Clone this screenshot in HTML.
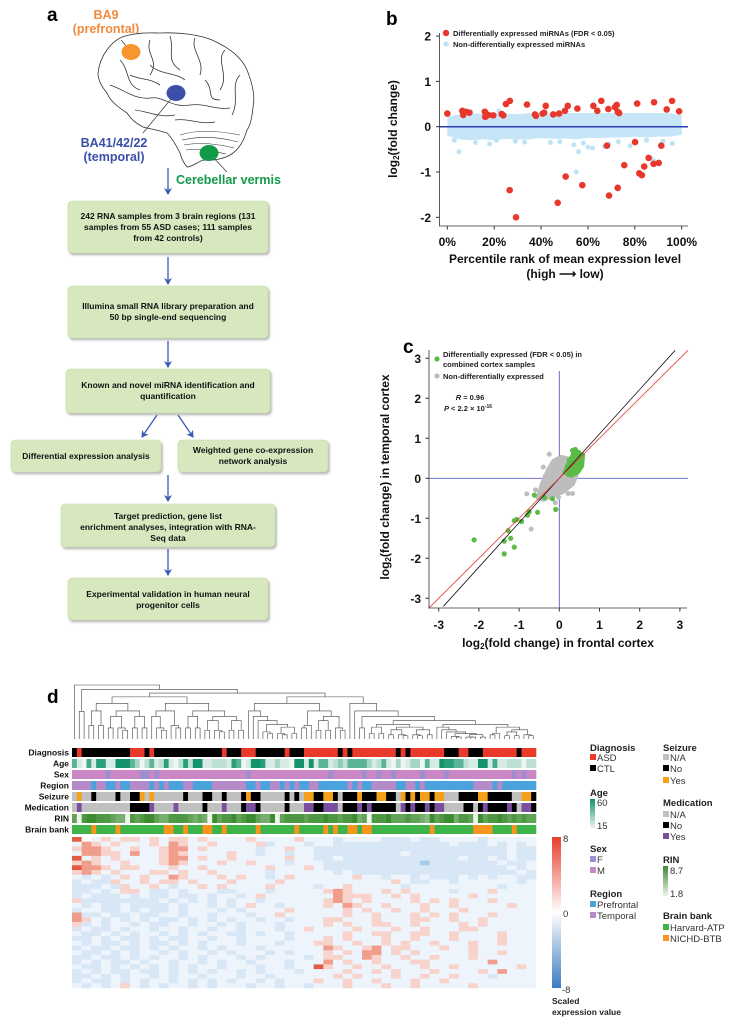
<!DOCTYPE html>
<html><head><meta charset="utf-8"><style>
html,body{margin:0;padding:0;background:#fff;}
svg{display:block;font-family:"Liberation Sans",Arial,sans-serif;}
.bx{fill:#d7e8bf;stroke:#c4d9a8;stroke-width:0.6;}
.bt{font-size:8.5px;font-weight:bold;text-anchor:middle;fill:#111;}
.tk{font-size:12px;font-weight:bold;fill:#111;}
.lg{font-size:7.5px;font-weight:bold;fill:#222;}
.al{font-size:8.5px;font-weight:bold;text-anchor:end;fill:#111;}
.lt{font-size:9.5px;font-weight:bold;fill:#222;}
.li{font-size:9.5px;fill:#333;}
</style></head><body>
<svg id="fig" width="743" height="1025" viewBox="0 0 743 1025" xmlns="http://www.w3.org/2000/svg">
<defs>
<filter id="sh" x="-5%" y="-5%" width="115%" height="130%"><feDropShadow dx="1.5" dy="2" stdDeviation="1" flood-color="#888" flood-opacity="0.6"/></filter>
<marker id="ar" markerWidth="8" markerHeight="8" refX="6" refY="4" orient="auto" markerUnits="userSpaceOnUse"><path d="M0,0 L7,4 L0,8 L2,4 Z" fill="#3a5bb5"/></marker>
<linearGradient id="gAge" x1="0" y1="0" x2="0" y2="1"><stop offset="0" stop-color="#12936b"/><stop offset="1" stop-color="#eef6f2"/></linearGradient>
<linearGradient id="gRin" x1="0" y1="0" x2="0" y2="1"><stop offset="0" stop-color="#3a8c2e"/><stop offset="1" stop-color="#eef4ea"/></linearGradient>
<linearGradient id="gCb" x1="0" y1="0" x2="0" y2="1"><stop offset="0" stop-color="#e6402a"/><stop offset="0.5" stop-color="#ffffff"/><stop offset="1" stop-color="#3a7cc2"/></linearGradient>
</defs>

<!-- Panel a -->
<g>
<text x="47" y="21" style="font-size:19px;font-weight:bold">a</text>
<text x="106" y="19" text-anchor="middle" style="font-size:12.5px;font-weight:bold;fill:#f08a3c">BA9</text>
<text x="106" y="33" text-anchor="middle" style="font-size:12.5px;font-weight:bold;fill:#f08a3c">(prefrontal)</text>
<g fill="none" stroke="#333" stroke-width="0.8">
<path d="M98,73 C100,55 112,40 125,36 C140,32 150,33 160,33 C180,32 200,35 212,40 C230,48 242,58 247,70 C253,85 255,98 253,107 C252,118 250,126 247,130 C244,140 240,148 233,153 C225,159 213,161 203,160 C196,163 192,167 187,167 C183,162 181,157 180,153 C176,145 172,138 167,133 C158,130 150,129 143,127 C135,123 130,118 127,113 C118,107 110,101 107,93 C101,86 98,80 98,73 Z" fill="#fff"/>
<path d="M120,60 C130,70 125,85 140,90 M150,40 C145,55 160,60 150,75 M170,36 C175,50 165,60 180,70 M195,38 C190,50 205,60 200,75 M225,50 C215,60 230,75 220,90 M240,75 C230,85 240,100 232,115 M110,85 C125,90 135,100 150,98 C165,96 170,108 190,105 C205,103 215,110 230,108 M135,110 C150,112 160,118 175,115 M175,120 C190,118 200,125 215,122 M205,80 C215,90 205,100 220,100 M150,65 C160,75 175,72 185,80 M130,75 C140,80 150,78 160,85"/>
<path d="M180,135 C195,130 215,130 240,135 M182,140 C200,136 220,137 238,142 M184,145 C200,142 218,144 234,148 M186,150 C200,148 212,151 226,154" stroke-width="0.6"/>
</g>
<line x1="121" y1="40" x2="128" y2="48" stroke="#333" stroke-width="0.7"/>
<line x1="176" y1="93" x2="143" y2="133" stroke="#333" stroke-width="0.7"/>
<line x1="209" y1="153" x2="227" y2="172" stroke="#333" stroke-width="0.7"/>
<ellipse cx="131" cy="52" rx="9.5" ry="8" fill="#f7962f"/>
<ellipse cx="176" cy="93" rx="9.5" ry="8" fill="#3b4fa8"/>
<ellipse cx="209" cy="153" rx="9.5" ry="8" fill="#139a48"/>
<text x="114" y="147" text-anchor="middle" style="font-size:12.5px;font-weight:bold;fill:#3b4fa8">BA41/42/22</text>
<text x="114" y="161" text-anchor="middle" style="font-size:12.5px;font-weight:bold;fill:#3b4fa8">(temporal)</text>
<text x="176" y="184" style="font-size:12.5px;font-weight:bold;fill:#139a48">Cerebellar vermis</text>

<g stroke="#3a5bb5" stroke-width="1.3" marker-end="url(#ar)">
<line x1="168" y1="168" x2="168" y2="194"/>
<line x1="168" y1="257" x2="168" y2="284"/>
<line x1="168" y1="341" x2="168" y2="367"/>
<line x1="157" y1="415" x2="142" y2="437"/>
<line x1="178" y1="415" x2="193" y2="437"/>
<line x1="168" y1="475" x2="168" y2="501"/>
<line x1="168" y1="549" x2="168" y2="575"/>
</g>
<g><rect class="bx" x="68" y="201" width="200" height="52" rx="4" filter="url(#sh)"/>
<text class="bt" x="168" y="219">242 RNA samples from 3 brain regions (131</text><text class="bt" x="168" y="230">samples from 55 ASD cases; 111 samples</text><text class="bt" x="168" y="241">from 42 controls)</text></g>
<g><rect class="bx" x="68" y="286" width="200" height="52" rx="4" filter="url(#sh)"/>
<text class="bt" x="168" y="309">Illumina small RNA library preparation and</text><text class="bt" x="168" y="320">50 bp single-end sequencing</text></g>
<g><rect class="bx" x="66" y="369" width="204" height="44" rx="4" filter="url(#sh)"/>
<text class="bt" x="168" y="388">Known and novel miRNA identification and</text><text class="bt" x="168" y="399">quantification</text></g>
<g><rect class="bx" x="11" y="440" width="150" height="32" rx="4" filter="url(#sh)"/>
<text class="bt" x="86" y="459">Differential expression analysis</text></g>
<g><rect class="bx" x="178" y="440" width="150" height="32" rx="4" filter="url(#sh)"/>
<text class="bt" x="253" y="453">Weighted gene co-expression</text><text class="bt" x="253" y="464">network analysis</text></g>
<g><rect class="bx" x="61" y="504" width="214" height="43" rx="4" filter="url(#sh)"/>
<text class="bt" x="168" y="519">Target prediction, gene list</text><text class="bt" x="168" y="530">enrichment analyses, integration with RNA-</text><text class="bt" x="168" y="541">Seq data</text></g>
<g><rect class="bx" x="68" y="578" width="200" height="42" rx="4" filter="url(#sh)"/>
<text class="bt" x="168" y="597">Experimental validation in human neural</text><text class="bt" x="168" y="608">progenitor cells</text></g>
</g>

<!-- Panel b -->
<g id="pb">
<text x="386" y="25" style="font-size:19px;font-weight:bold">b</text>
<g id="pbMarks"></g>
<g id="pbAxes"></g>
<text transform="translate(397,129) rotate(-90)" text-anchor="middle" class="tk">log<tspan style="font-size:8px" dy="2">2</tspan><tspan dy="-2">(fold change)</tspan></text>
<text x="565" y="263" text-anchor="middle" class="tk">Percentile rank of mean expression level</text>
<text x="565" y="278" text-anchor="middle" class="tk">(high ⟶ low)</text>
<g>
<circle cx="446" cy="33" r="3.2" fill="#e8382e"/><text class="lg" x="453" y="36">Differentially expressed miRNAs (FDR &lt; 0.05)</text>
<circle cx="446" cy="44" r="2.6" fill="#bfe3f5"/><text class="lg" x="453" y="47">Non-differentially expressed miRNAs</text>
</g>
</g>

<!-- Panel c -->
<g id="pc">
<text x="403" y="353" style="font-size:19px;font-weight:bold">c</text>
<g id="pcMarks"></g>
<g id="pcAxes"></g>
<text transform="translate(389,477) rotate(-90)" text-anchor="middle" class="tk">log<tspan style="font-size:8px" dy="2">2</tspan><tspan dy="-2">(fold change) in temporal cortex</tspan></text>
<text x="558" y="647" text-anchor="middle" class="tk">log<tspan style="font-size:8px" dy="2">2</tspan><tspan dy="-2">(fold change) in frontal cortex</tspan></text>
<g>
<circle cx="437" cy="359" r="2.6" fill="#5bbb46"/><text class="lg" x="443" y="357">Differentially expressed (FDR &lt; 0.05) in</text><text class="lg" x="443" y="367">combined cortex samples</text>
<circle cx="437" cy="376" r="2.6" fill="#b9b9b9"/><text class="lg" x="443" y="379">Non-differentially expressed</text>
<text class="lg" x="470" y="400" text-anchor="middle"><tspan font-style="italic">R</tspan> = 0.96</text>
<text class="lg" x="468" y="411" text-anchor="middle"><tspan font-style="italic">P</tspan> &lt; 2.2 × 10<tspan dy="-3" style="font-size:5px">-16</tspan></text>
</g>
</g>

<!-- Panel d -->
<g id="pd">
<text x="47" y="703" style="font-size:19px;font-weight:bold">d</text>
<g id="dendro" stroke="#444" stroke-width="0.6" fill="none"></g>
<g id="annot"></g>
<g id="heat"></g>
<g>
<rect x="552" y="837" width="9" height="151" fill="url(#gCb)"/>
<text class="li" x="563" y="842">8</text><text class="li" x="563" y="917">0</text><text class="li" x="562" y="993">-8</text>
<text class="lt" x="552" y="1004" style="font-size:8.5px">Scaled</text><text class="lt" x="552" y="1015" style="font-size:8.5px">expression value</text>
</g>
<g>
<text class="lt" x="590" y="751">Diagnosis</text>
<rect x="590" y="754" width="6" height="6" fill="#e8392b"/><text class="li" x="597" y="761">ASD</text>
<rect x="590" y="765" width="6" height="6" fill="#000"/><text class="li" x="597" y="772">CTL</text>
<text class="lt" x="590" y="796">Age</text>
<rect x="590" y="799" width="5" height="29" fill="url(#gAge)"/><text class="li" x="597" y="806">60</text><text class="li" x="597" y="829">15</text>
<text class="lt" x="590" y="852">Sex</text>
<rect x="590" y="856" width="6" height="6" fill="#a08fd0"/><text class="li" x="597" y="863">F</text>
<rect x="590" y="867" width="6" height="6" fill="#c987c4"/><text class="li" x="597" y="874">M</text>
<text class="lt" x="590" y="897">Region</text>
<rect x="590" y="901" width="6" height="6" fill="#4aa3dd"/><text class="li" x="597" y="908">Prefrontal</text>
<rect x="590" y="912" width="6" height="6" fill="#b58ac9"/><text class="li" x="597" y="919">Temporal</text>
<text class="lt" x="663" y="751">Seizure</text>
<rect x="663" y="754" width="6" height="6" fill="#c0c0c0"/><text class="li" x="670" y="761">N/A</text>
<rect x="663" y="765" width="6" height="6" fill="#000"/><text class="li" x="670" y="772">No</text>
<rect x="663" y="777" width="6" height="6" fill="#f5a01a"/><text class="li" x="670" y="784">Yes</text>
<text class="lt" x="663" y="806">Medication</text>
<rect x="663" y="811" width="6" height="6" fill="#c0c0c0"/><text class="li" x="670" y="818">N/A</text>
<rect x="663" y="822" width="6" height="6" fill="#000"/><text class="li" x="670" y="829">No</text>
<rect x="663" y="833" width="6" height="6" fill="#7b4fa0"/><text class="li" x="670" y="840">Yes</text>
<text class="lt" x="663" y="863">RIN</text>
<rect x="663" y="866" width="5" height="30" fill="url(#gRin)"/><text class="li" x="670" y="874">8.7</text><text class="li" x="670" y="897">1.8</text>
<text class="lt" x="663" y="919">Brain bank</text>
<rect x="663" y="924" width="6" height="6" fill="#3eb34a"/><text class="li" x="670" y="931">Harvard-ATP</text>
<rect x="663" y="935" width="6" height="6" fill="#f7941d"/><text class="li" x="670" y="942">NICHD-BTB</text>
</g>
</g>
</svg>
<script>
// ---------- Panel b data ----------
const bRedPct = [0,6.4,6.8,8,9.4,16,16.2,17.5,19.6,23.2,23.9,25,26.7,26.6,29.3,34,37.4,37.8,40.7,41.3,42,45.2,47.1,47.7,50.2,50.5,51.4,55.5,57.6,62.3,64,65.7,68.1,68.7,69,71.5,72.3,72.7,72.7,73.3,75.5,80.1,81,81.9,83,84,85.9,88,88.2,90.2,91.3,93.6,95.9,98.9];
const bRedFC = [0.29,0.35,0.26,0.33,0.31,0.33,0.22,0.26,0.25,0.28,0.25,0.5,0.57,-1.4,-2.0,0.49,0.27,0.24,0.29,0.31,0.46,0.27,-1.68,0.29,0.35,-1.1,0.46,0.4,-1.29,0.46,0.35,0.57,-0.42,0.39,-1.52,0.43,0.48,-1.35,0.33,0.3,-0.85,-0.34,0.51,-1.03,-1.07,-0.88,-0.69,-0.82,0.54,-0.8,-0.42,0.38,0.57,0.34];
const bBandPct = [0,5,10,15,20,25,30,35,40,45,50,55,60,65,70,75,80,85,90,95,100];
const bBandHi = [0.22,0.27,0.3,0.28,0.3,0.29,0.28,0.3,0.3,0.29,0.3,0.3,0.3,0.3,0.3,0.3,0.3,0.3,0.3,0.3,0.25];
const bBandLo = [-0.2,-0.28,-0.3,-0.28,-0.3,-0.27,-0.28,-0.28,-0.25,-0.27,-0.26,-0.28,-0.25,-0.25,-0.24,-0.24,-0.22,-0.24,-0.22,-0.22,-0.18];
const bBluePct = [5,12,21,18,29,33,44,54,55,56,60,62,67,69,73,78,85,87,88,96,10,22,3,48,58,80,92];
const bBlueFC = [-0.55,-0.35,-0.3,-0.38,-0.32,-0.34,-0.35,-0.4,-1.0,-0.55,-0.45,-0.47,-0.44,-0.38,-0.33,-0.42,-0.3,-0.7,-0.75,-0.37,0.33,0.35,-0.3,-0.33,-0.36,-0.34,-0.32];
const bXTicks = [0,20,40,60,80,100];
const bXTickLabels = ['0%','20%','40%','60%','80%','100%'];
const bYTicks = [2,1,0,-1,-2];

// ---------- Panel c data ----------
const cGreenX = [-2.12,-1.37,-1.37,-1.27,-1.21,-1.12,-1.12,-1.06,-0.94,-0.79,-0.75,-0.54,-0.37,-0.17,-0.09,-0.62,0.15,0.2,0.25,0.3,0.35,0.4,0.45,0.5,0.55,0.58,0.38,0.42,0.3,0.22,0.48,0.52,0.33,0.27];
const cGreenY = [-1.54,-1.89,-1.57,-1.31,-1.5,-1.72,-1.06,-1.03,-1.08,-0.92,-0.84,-0.85,-0.48,-0.51,-0.78,-0.42,0.15,0.3,0.45,0.5,0.6,0.72,0.55,0.35,0.45,0.58,0.25,0.4,0.2,0.1,0.65,0.3,0.7,0.35];
const cGreyX = [-0.25,-0.4,-0.81,-0.7,-0.1,0.33,0.22,-0.59,-0.45,-0.3,-0.2,-0.1,0,0.1,0.2,0.05,-0.15,-0.35,0.15,-0.05,0.1,-0.25,0.3,-0.5,-0.02];
const cGreyY = [0.6,0.28,-0.39,-1.27,-0.61,-0.38,-0.38,-0.29,-0.3,-0.1,0.2,0.4,0.5,0.35,0.1,-0.3,-0.4,0.05,-0.2,0.15,0.48,-0.2,0.05,-0.45,-0.48];
const cBlobX = [-0.55,-0.4,-0.15,0.1,0.35,0.45,0.4,0.25,0.05,-0.15,-0.3,-0.45];
const cBlobY = [-0.5,-0.55,-0.45,-0.35,-0.15,0.1,0.35,0.5,0.55,0.45,0.2,-0.15];
const cGClusterX = [0.12,0.25,0.38,0.5,0.6,0.58,0.48,0.3];
const cGClusterY = [0.15,0.45,0.68,0.65,0.55,0.3,0.15,0.05];
const cTicks = [-3,-2,-1,0,1,2,3];
const cFitSlope = [1.11, 1.0];

// ---------- Panel d data ----------
const diagnosisRuns = [['K',1],['R',1],['K',10],['R',3],['K',1],['R',1],['K',14],['R',1],['K',3],['R',3],['K',6],['R',1],['K',3],['R',7],['K',1],['R',1],['K',1],['R',9],['K',1],['R',1],['K',1],['R',7],['K',3],['R',2],['K',3],['R',7],['K',1],['R',3]];
const ageLevels = "61071881199963026128102829911222186019981131109919166124266663126103013306119886621199171122202";
const sexCodes = "MMMMMMMFMMMMMMFFMFMMMMMMMMMMMMMMMMMMFMMMMMMMMMMMMMMMMFMMMMMMFMMFMMFMMMMMFMMMMFMMMMMMMMMMMMMFMFM";
const regionCodes = "TTTTPTTPPTPPTTTTPTPTPPPTTPPPPTTTTTTTPPTPPTTPTPTPPTTPPPPPPTPTPPTTTTTPPTTPTPPPPPPPPPPTTTTPTPPPPPPP";
const seizureCodes = "NYNNKNNNNKNNKKYNYNNNNNNKNNNKKNNKNNNKYKKNNNNNKNKNYYKKYYKNKKKYKKKYYKKNYKYKYYKYYNNNKKKKYYKKKKKNNYYK";
const medicationCodes = "NPNNNNNNNNNNKKKKPNNNNPNNNNNKNNNPNNNKPPKNNNNNKNNNPPKKPPPNKKKPKPKKKKKNPKPKKPKPPNNNNKKNKPKKKKPKNPPK";
const rinLevels = "70899888766087899766888876760978897899766907888878889887889670888977787765978996887097889878787";
const bankCodes = "HHHHOHHHHOHHHHHHHHHOOHHOHHHOOHHOHHHHHHOHHHHHHHOHHHHHOHOHHOOHOOHHHHHHHHHHHHOHHHHHHHHOOOOHHHHOHHHH";
const heatRows = [
"Xw.r.rr.r.rr.r....r....r...b....bbb.bb....b.....",
".Rr.r...r.Rr..r....rb...b..bbbbbbbbbbbb.bbb.b.b.",
"rRRr..r..rRR.r.....b..r..bbbbbbbbbbbbbbbbbbbb.bb",
".RRrr.R..rRr....r..b..b..bbbbbbbbb.bbbbbbbbbb.bb",
"X.r.r....rRR.r..r.....r..bb.bbbbbbbbbbbb.bb.b.bb",
"rRr..r...rRr...r..r...b...bbbbbbbbbbBbbbbbbb.bb.",
"XRRr.rr...r..r......r...r.bbbbbbbbbbbbbbbbbbb.b.",
"rRr.r...rr.r..r.....b......b.bbbbbbbbbbbbbbbbb.b",
".b.b.r.r..Rr...r.r..b.r......r..b..b.bbb.b.b..bb",
"b.bbr..r.rr.r...r....r...........r.bb..b......b.",
"bbb.br..r.b..r.r....r....b..r.....b.........b...",
"bb.b.rr.bb.b...bb...b.....rRr...r.r....b...r....",
"b.bbb.b.bb.bb.b..b.r.......Rrrr..r.r.....r......",
"rbbbbbbbb.b.b.b.b..b......rRr.r....r.r.r...r....",
".b.bb.bbbb.b..b.b.r..b....r.Rr..r...r..r.....r..",
"b..bb.b.bb.b...b.b....r.....r.r..r..r...r.......",
"Rbb.bb.bb..b..b...b..r......r..r...r.r.r...r....",
"Rr.b.b.b.bb.b.b.b..b..b...rr...r...rr..r..r.....",
"rb.b..b.bb..b..b.b...b....r.r..rr..r....r.r.....",
"b.bb.b..b..b..b..b...b..r....r...r..r...rr......",
".bb.b.b..b.b.b..bb.b..b.....r..rr..rr..r....r...",
"bb.b.bb.b.bb..b..b....b...r.r...r..r...r....r...",
".b.bb.b.bb.b.b...b...b...rr..r..r.r..r...r..r...",
"b.bb.bb.b.b..b.b...b......Rr..rR.rr...r..r......",
".bb.b.b..b.b..b.b...b.b...r.r.RR.r.r.....r..r...",
"bb.bb.b.b..b.b...b.b....b.rr..Rr..r..r...r......",
"b.b.bb.b..b..b.b..b...b...R.r..r...rr......R....",
".bb.b.b.b.b.b..b...b..b..Xr..r..r...r..r......r.",
"b.b.bb.bb.b.b.b..b.b...b....r..r.r...r....r.R...",
"bb.b.b..b.b..b...b..b......r.r...r..r..r...b....",
"b.bb.b.b..b.b.b.b..b.b...r..r..r...r..r.........",
".b.b.r.b.b..b.b...b..b..b...r...r..r.....r......"];
const dendroSplits = [0.01,0.02,0.05,0.35,0.4,0.3,0.5,0.35,0.45,0.5,0.3,0.55,0.4,0.5,0.6,0.45,0.5,0.35,0.5];
const dendroHeights = [1.0,0.92,0.85,0.78,0.66,0.52,0.42,0.34,0.27,0.22,0.17,0.13,0.1,0.08,0.06];

const NS = 'http://www.w3.org/2000/svg';
function mk(tag, parent){const e=document.createElementNS(NS,tag);parent.appendChild(e);return e;}

// ----- Panel b render -----
const xb = p => 447.3 + p*2.344;
const yb = v => 126.7 - v*45.3;
const pbM = document.getElementById('pbMarks');
const pbA = document.getElementById('pbAxes');
let pts = bBandPct.map((p,i)=>xb(p)+','+yb(bBandHi[i])).concat(bBandPct.slice().reverse().map((p,i)=>xb(p)+','+yb(bBandLo[bBandLo.length-1-i])));
const band = mk('polygon', pbM);


band.setAttribute('points', pts.join(' '));
band.setAttribute('fill', '#c6e6f7');
bBluePct.forEach((p,i)=>{
  const c = mk('circle', pbM);
  
  
  c.setAttribute('cx', xb(p)); c.setAttribute('cy', yb(bBlueFC[i])); c.setAttribute('r', 2.5); c.setAttribute('fill', '#bfe3f5');
});
const zl = mk('line', pbM);


zl.setAttribute('x1', 439.5); zl.setAttribute('x2', 688); zl.setAttribute('y1', yb(0)); zl.setAttribute('y2', yb(0));
zl.setAttribute('stroke', '#2b3fb0'); zl.setAttribute('stroke-width', 1.5);
bRedPct.forEach((p,i)=>{
  const c = mk('circle', pbM);
  
  
  c.setAttribute('cx', xb(p)); c.setAttribute('cy', yb(bRedFC[i])); c.setAttribute('r', 3.3); c.setAttribute('fill', '#e8382e');
});
const bax = mk('path', pbA);


bax.setAttribute('d', 'M439.5,33 L439.5,226 L688,226');
bax.setAttribute('stroke', '#333'); bax.setAttribute('fill', 'none'); bax.setAttribute('stroke-width', 0.8);
bYTicks.forEach(v=>{
  const t = mk('line', pbA);
  
  
  t.setAttribute('x1', 436); t.setAttribute('x2', 439.5); t.setAttribute('y1', yb(v)); t.setAttribute('y2', yb(v)); t.setAttribute('stroke', '#333');
  const l = mk('text', pbA);
  
  
  l.setAttribute('x', 431); l.setAttribute('y', yb(v)+4.5); l.setAttribute('text-anchor', 'end'); l.setAttribute('class', 'tk');
  l.textContent = v;
});
bXTicks.forEach((v,i)=>{
  const t = mk('line', pbA);
  
  
  t.setAttribute('x1', xb(v)); t.setAttribute('x2', xb(v)); t.setAttribute('y1', 226); t.setAttribute('y2', 229.5); t.setAttribute('stroke', '#333');
  const l = mk('text', pbA);
  
  
  l.setAttribute('x', xb(v)); l.setAttribute('y', 246); l.setAttribute('text-anchor', 'middle'); l.setAttribute('class', 'tk');
  l.textContent = bXTickLabels[i];
});

// ----- Panel c render -----
const xc = v => 559.3 + v*40.2;
const yc = v => 478.3 - v*40;
const pcM = document.getElementById('pcMarks');
const pcA = document.getElementById('pcAxes');
[[0,371,0,608,'vertical-zero-line'],[-3.25,0,3.2,0,'horizontal-zero-line']].forEach(a=>{
  const l = mk('line', pcM);
  
  
  if(a[4]==='vertical-zero-line'){l.setAttribute('x1', xc(0)); l.setAttribute('x2', xc(0)); l.setAttribute('y1', a[1]); l.setAttribute('y2', a[3]);}
  else {l.setAttribute('x1', xc(a[0])); l.setAttribute('x2', xc(a[2])); l.setAttribute('y1', yc(0)); l.setAttribute('y2', yc(0));}
  l.setAttribute('stroke', '#5a5ec8'); l.setAttribute('stroke-width', 0.9);
});
const blob = mk('polygon', pcM);


blob.setAttribute('points', cBlobX.map((x,i)=>xc(x)+','+yc(cBlobY[i])).join(' '));
blob.setAttribute('fill', '#bdbdbd'); blob.setAttribute('stroke', '#bdbdbd'); blob.setAttribute('stroke-width', 3); blob.setAttribute('stroke-linejoin', 'round');
cGreyX.forEach((x,i)=>{
  const c = mk('circle', pcM);
  
  
  c.setAttribute('cx', xc(x)); c.setAttribute('cy', yc(cGreyY[i])); c.setAttribute('r', 2.5); c.setAttribute('fill', '#bdbdbd');
});
const gcl = mk('polygon', pcM);


gcl.setAttribute('points', cGClusterX.map((x,i)=>xc(x)+','+yc(cGClusterY[i])).join(' '));
gcl.setAttribute('fill', '#5bbb46'); gcl.setAttribute('stroke', '#5bbb46'); gcl.setAttribute('stroke-width', 3); gcl.setAttribute('stroke-linejoin', 'round');
cGreenX.forEach((x,i)=>{
  const c = mk('circle', pcM);
  
  
  c.setAttribute('cx', xc(x)); c.setAttribute('cy', yc(cGreenY[i])); c.setAttribute('r', 2.6); c.setAttribute('fill', '#5bbb46');
});
const fitBlack = mk('line', pcM);


fitBlack.setAttribute('x1', xc(-3.2/cFitSlope[0])); fitBlack.setAttribute('y1', yc(-3.2));
fitBlack.setAttribute('x2', xc(3.2/cFitSlope[0])); fitBlack.setAttribute('y2', yc(3.2));
fitBlack.setAttribute('stroke', '#111'); fitBlack.setAttribute('stroke-width', 0.8);
const fitRed = mk('line', pcM);


fitRed.setAttribute('x1', xc(-3.25)); fitRed.setAttribute('y1', yc(-3.25*cFitSlope[1]));
fitRed.setAttribute('x2', xc(3.2)); fitRed.setAttribute('y2', yc(3.2*cFitSlope[1]));
fitRed.setAttribute('stroke', '#e8382e'); fitRed.setAttribute('stroke-width', 0.8);
const cax = mk('path', pcA);


cax.setAttribute('d', 'M429,350 L429,608 L687,608');
cax.setAttribute('stroke', '#333'); cax.setAttribute('fill', 'none'); cax.setAttribute('stroke-width', 0.8);
cTicks.forEach(v=>{
  const t = mk('line', pcA);
  
  
  t.setAttribute('x1', 425.5); t.setAttribute('x2', 429); t.setAttribute('y1', yc(v)); t.setAttribute('y2', yc(v)); t.setAttribute('stroke', '#333');
  const l = mk('text', pcA);
  
  
  l.setAttribute('x', 421); l.setAttribute('y', yc(v)+4.5); l.setAttribute('text-anchor', 'end'); l.setAttribute('class', 'tk');
  l.textContent = v;
  const t2 = mk('line', pcA);
  
  
  t2.setAttribute('x1', xc(v)); t2.setAttribute('x2', xc(v)); t2.setAttribute('y1', 608); t2.setAttribute('y2', 611.5); t2.setAttribute('stroke', '#333');
  const l2 = mk('text', pcA);
  
  
  l2.setAttribute('x', xc(v)); l2.setAttribute('y', 629); l2.setAttribute('text-anchor', 'middle'); l2.setAttribute('class', 'tk');
  l2.textContent = v;
});

// ----- Panel d render -----
const NCOL = 96, HX0 = 72, HX1 = 536, CW = (HX1-HX0)/NCOL;
const annot = document.getElementById('annot');
const mixHex = (a,b,t)=>{const pa=[1,3,5].map(i=>parseInt(a.substr(i,2),16)),pb=[1,3,5].map(i=>parseInt(b.substr(i,2),16));return 'rgb('+pa.map((v,i)=>Math.round(v+(pb[i]-v)*t)).join(',')+')';};
let diagStr = diagnosisRuns.map(r=>r[0].repeat(r[1])).join('');
const tracks = [
  ['Diagnosis', diagStr, c=>c==='R'?'#e8392b':'#000'],
  ['Age', ageLevels, c=>mixHex('#eef6f2','#12936b',(+c)/9)],
  ['Sex', sexCodes, c=>c==='F'?'#a08fd0':'#c987c4'],
  ['Region', regionCodes, c=>c==='P'?'#4aa3dd':'#b58ac9'],
  ['Seizure', seizureCodes, c=>c==='K'?'#000':(c==='Y'?'#f5a01a':'#c0c0c0')],
  ['Medication', medicationCodes, c=>c==='K'?'#000':(c==='P'?'#7b4fa0':'#c0c0c0')],
  ['RIN', rinLevels, c=>mixHex('#eef4ea','#3a8c2e',(+c)/9)],
  ['Brain bank', bankCodes, c=>c==='O'?'#f7941d':'#3eb34a']
];
tracks.forEach((tr,ri)=>{
  const y = 748 + ri*11;
  const lab = mk('text', annot);
  
  
  lab.setAttribute('x', 69); lab.setAttribute('y', y+7.5); lab.setAttribute('class', 'al');
  lab.textContent = tr[0];
  for(let i=0;i<NCOL;i++){
    const ch = tr[1][i] || tr[1][tr[1].length-1];
    const r = mk('rect', annot);
    
    
    r.setAttribute('x', HX0+i*CW); r.setAttribute('y', y); r.setAttribute('width', CW+0.3); r.setAttribute('height', 9);
    r.setAttribute('fill', tr[2](ch));
  }
});
// heatmap
const heat = document.getElementById('heat');
const heatColor = {'B':'#a9cbea','b':'#d8e7f5','.':'#eef4fb','w':'#fbfcfe','r':'#f7d3cb','R':'#f09d8c','X':'#e35b45'};
const HC = 48, HR = heatRows.length, hw = (HX1-HX0)/HC, hh = (988-837)/HR;
heatRows.forEach((row,ri)=>{
  for(let ci=0;ci<HC;ci++){
    const ch = row[ci] || '.';
    const r = mk('rect', heat);
    
    
    r.setAttribute('x', HX0+ci*hw); r.setAttribute('y', 837+ri*hh); r.setAttribute('width', hw+0.3); r.setAttribute('height', hh+0.3);
    r.setAttribute('fill', heatColor[ch] || '#eef4fb');
  }
});
// dendrogram
const dendro = document.getElementById('dendro');
const yd = h => 739 - h*54;
let splitIdx = 0;
function buildTree(start, n, depth){
  if(n===1) return {x: HX0+(start+0.5)*CW, h: 0};
  const f = dendroSplits[splitIdx % dendroSplits.length]; splitIdx++;
  let a = Math.max(1, Math.min(n-1, Math.round(n*f)));
  const L = buildTree(start, a, depth+1), R = buildTree(start+a, n-a, depth+1);
  const h = dendroHeights[Math.min(depth, dendroHeights.length-1)] * (n>3?1:0.6);
  const p = mk('path', dendro);
  
  
  p.setAttribute('d', 'M'+L.x+','+yd(L.h)+' V'+yd(h)+' H'+R.x+' V'+yd(R.h));
  return {x:(L.x+R.x)/2, h:h};
}
buildTree(0, NCOL, 0);
</script>
</body></html>
